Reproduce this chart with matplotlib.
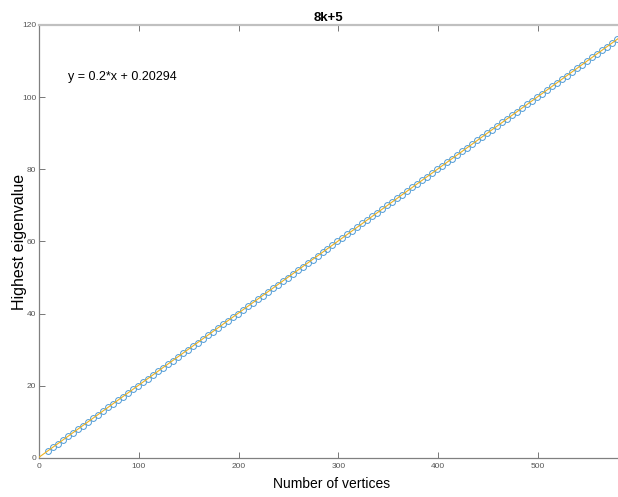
import matplotlib
matplotlib.use("Agg")
import matplotlib.pyplot as plt

# number of vertices
vertices = [
    9, 14, 19, 24, 29, 34, 39, 44, 49, 54,
    59, 64, 69, 74, 79, 84, 89, 94, 99, 104,
    109, 114, 119, 124, 129, 134, 139, 144, 149, 154,
    159, 164, 169, 174, 179, 184, 189, 194, 199, 204,
    209, 214, 219, 224, 229, 234, 239, 244, 249, 254,
    259, 264, 269, 274, 279, 284, 289, 294, 299, 304,
    309, 314, 319, 324, 329, 334, 339, 344, 349, 354,
    359, 364, 369, 374, 379, 384, 389, 394, 399, 404,
    409, 414, 419, 424, 429, 434, 439, 444, 449, 454,
    459, 464, 469, 474, 479, 484, 489, 494, 499, 504,
    509, 514, 519, 524, 529, 534, 539, 544, 549, 554,
    559, 564, 569, 574, 579,
]
# highest eigenvalue for each
eigen = [
    2, 3, 4, 5, 6, 7, 8, 9, 10, 11,
    12, 13, 14, 15, 16, 17, 18, 19, 20, 21,
    22, 23, 24, 25, 26, 27, 28, 29, 30, 31,
    32, 33, 34, 35, 36, 37, 38, 39, 40, 41,
    42, 43, 44, 45, 46, 47, 48, 49, 50, 51,
    52, 53, 54, 55, 56, 57, 58, 59, 60, 61,
    62, 63, 64, 65, 66, 67, 68, 69, 70, 71,
    72, 73, 74, 75, 76, 77, 78, 79, 80, 81,
    82, 83, 84, 85, 86, 87, 88, 89, 90, 91,
    92, 93, 94, 95, 96, 97, 98, 99, 100, 101,
    102, 103, 104, 105, 106, 107, 108, 109, 110, 111,
    112, 113, 114, 115, 116,
]
slope = 0.2
intercept = 0.20294
fit_x = [0, 580]
fit_y = [slope * v + intercept for v in fit_x]

xticks = [0, 100, 200, 300, 400, 500]
yticks = [0, 20, 40, 60, 80, 100, 120]

fam = ["Liberation Sans", "DejaVu Sans"]

fig = plt.figure(figsize=(6.18, 4.97), dpi=100)
ax = fig.add_axes([0.0631, 0.0785, 0.9369, 0.8712])

ax.plot(vertices, eigen, "o", markersize=4.2, markerfacecolor="none",
        markeredgecolor="#4d9ad6", markeredgewidth=0.7, zorder=2)
ax.plot(fit_x, fit_y, "-", color="#EDB120", linewidth=0.8, zorder=3)

ax.set_xlim(0, 580)
ax.set_ylim(0, 120)
ax.set_xticks(xticks)
ax.set_yticks(yticks)
ax.tick_params(direction="in", length=4, width=0.7, color="#777777",
               labelcolor="#555555", labelsize=6, top=True, right=False)
ax.tick_params(axis="x", pad=3.5)
ax.tick_params(axis="y", pad=2)
for lab in ax.get_xticklabels() + ax.get_yticklabels():
    lab.set_family(fam)

for side in ["left", "bottom"]:
    ax.spines[side].set_color("#808080")
    ax.spines[side].set_linewidth(0.9)
ax.spines["top"].set_color("#c0c0c0")
ax.spines["top"].set_linewidth(1.6)
ax.spines["right"].set_visible(False)

ax.set_title("8k+5", fontsize=9.5, fontweight="bold", family=fam, pad=3)
ax.set_xlabel("Number of vertices", fontsize=10, family=fam)
ax.xaxis.set_label_coords(0.505, -0.043)
ax.set_ylabel("Highest eigenvalue", fontsize=11.5, family=fam)
ax.yaxis.set_label_coords(-0.021, 0.5)

ax.text(29, 105.6, "y = 0.2*x + 0.20294", fontsize=9, family=fam, va="center")

fig.savefig("out.png", dpi=100)
